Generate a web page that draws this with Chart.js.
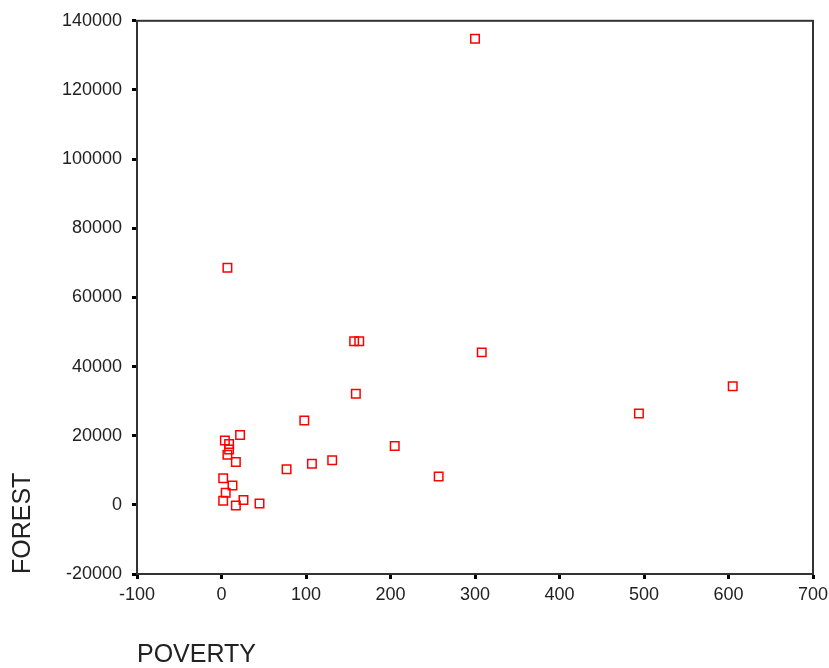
<!DOCTYPE html>
<html>
<head>
<meta charset="utf-8">
<script src="https://cdn.jsdelivr.net/npm/chart.js@4/dist/chart.umd.min.js"></script>
<style>
  html, body { margin: 0; padding: 0; background: #fff; }
  #wrap { width: 829px; height: 668px; }
</style>
</head>
<body>
<div id="wrap"><canvas id="scatter"></canvas></div>
<script>
// values
var poverty = [157, 163, 159, 98, 22, 4, 9, 9, 7, 17, 205, 131, 107, 77, 2, 13, 5, 2, 17, 26, 45, 7, 300, 308, 257, 494, 605];
var forest = [47300, 47300, 32100, 24400, 20200, 18600, 17600, 16000, 14500, 12400, 17000, 12900, 11900, 10300, 7700, 5600, 3500, 1200, -200, 1400, 400, 68600, 134800, 44100, 8200, 26400, 34300];
var xTicks = [-100, 0, 100, 200, 300, 400, 500, 600, 700];
var yTicks = [-20000, 0, 20000, 40000, 60000, 80000, 100000, 120000, 140000];

var points = [];
for (var i = 0; i < poverty.length; i++) {
	points.push({ x: poverty[i], y: forest[i] });
}

// box round the plot area (top and right sides)
var frame = {
	id: 'frame',
	afterDraw: function (chart) {
		var a = chart.chartArea, ctx = chart.ctx;
		ctx.save();
		ctx.strokeStyle = '#333';
		ctx.lineWidth = 2;
		ctx.strokeRect(a.left, a.top, a.right - a.left, a.bottom - a.top);
		ctx.restore();
	}
};

var tickFont = { family: 'Liberation Sans, Arial, sans-serif', size: 18 };
var titleFont = { family: 'Liberation Sans, Arial, sans-serif', size: 25, lineHeight: 1 };

new Chart(document.getElementById('scatter'), {
	type: 'scatter',
	data: {
		datasets: [{
			label: 'FOREST',
			data: points,
			pointStyle: 'rect',
			pointRadius: 6,
			pointHoverRadius: 6,
			borderWidth: 1.5,
			borderColor: '#ff0000',
			backgroundColor: 'rgba(0,0,0,0)'
		}]
	},
	options: {
		responsive: true,
		maintainAspectRatio: false,
		animation: false,
		layout: { padding: { top: 18, right: 16, left: 0, bottom: 0 } },
		plugins: {
			legend: { display: false },
			tooltip: { enabled: false }
		},
		scales: {
			x: {
				type: 'linear',
				min: xTicks[0],
				max: xTicks[xTicks.length - 1],
				afterBuildTicks: function (s) { s.ticks = xTicks.map(function (v) { return { value: v }; }); },
				afterFit: function (s) { s.height = 94; s.paddingRight = 0; },
				grid: { drawOnChartArea: false, color: '#000', tickLength: 5, tickWidth: 3 },
				border: { color: '#333', width: 2 },
				ticks: { color: '#222', font: tickFont, padding: 5, maxRotation: 0 },
				title: { display: true, text: 'POVERTY', align: 'start', color: '#222', font: titleFont, padding: 0 }
			},
			y: {
				type: 'linear',
				min: yTicks[0],
				max: yTicks[yTicks.length - 1],
				afterBuildTicks: function (s) { s.ticks = yTicks.map(function (v) { return { value: v }; }); },
				afterFit: function (s) { s.width = 137; },
				grid: { drawOnChartArea: false, color: '#000', tickLength: 5, tickWidth: 3 },
				border: { color: '#333', width: 2 },
				ticks: { color: '#222', font: tickFont, padding: 10, callback: function (v) { return String(v); } },
				title: { display: true, text: 'FOREST', align: 'start', color: '#222', font: titleFont, padding: 11 }
			}
		}
	},
	plugins: [frame]
});
</script>
</body>
</html>
